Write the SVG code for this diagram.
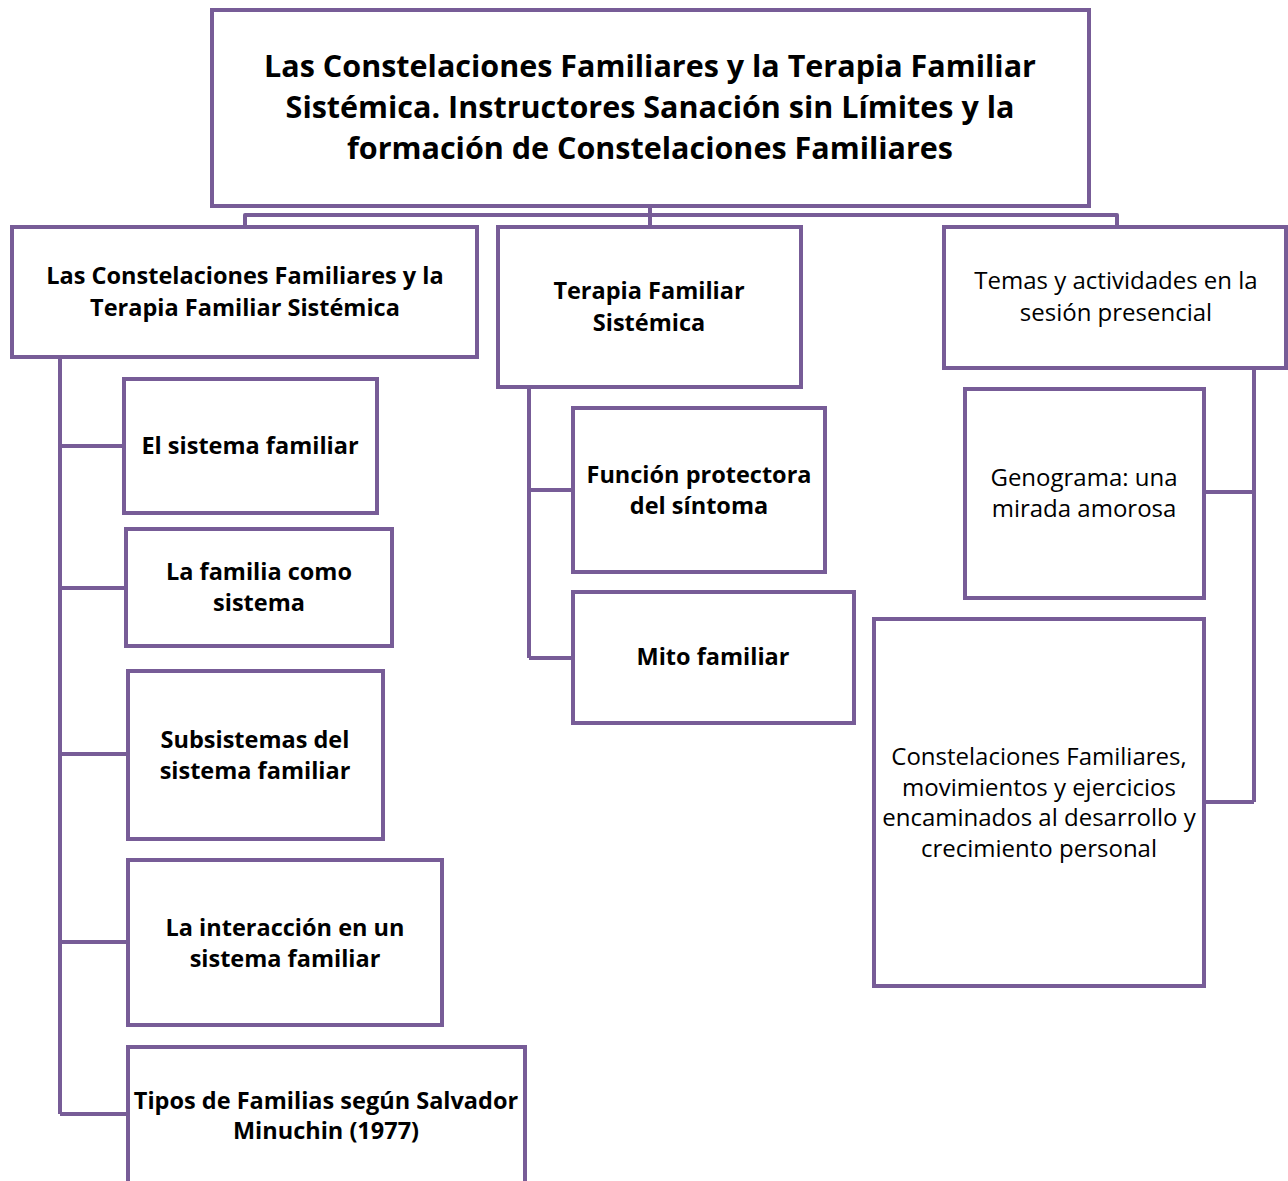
<svg xmlns="http://www.w3.org/2000/svg" width="1288" height="1181" viewBox="0 0 1288 1181">
<style>
.box{fill:#fff;stroke:#775C97;stroke-width:4}
.ln{fill:none;stroke:#775C97;stroke-width:4;stroke-linejoin:round}
text{font-family:"Open Sans",Lato,"Liberation Sans",sans-serif;fill:#000;text-anchor:middle}
.t{font-size:30.5px;font-weight:bold}
.b{font-size:23.5px;font-weight:bold}
.r{font-size:24px;font-weight:normal}
</style>
<rect width="1288" height="1181" fill="#fff"/>
<g id="connectors">
<path class="ln" d="M650 206V215M245 227V215H1117V227M650 215V227"/>
<path class="ln" d="M60 357V1114M60 446H124M60 588H126M60 754H128M60 942H128M60 1114H128"/>
<path class="ln" d="M529 387V658M529 490H573M529 658H573"/>
<path class="ln" d="M1254 368V802M1254 492H1204M1254 802H1204"/>
</g>
<g id="title">
<rect class="box" x="212" y="10" width="877" height="196"/>
<text class="t" x="650" y="77">Las Constelaciones Familiares y la Terapia Familiar</text>
<text class="t" x="650" y="118">Sistémica. Instructores Sanación sin Límites y la</text>
<text class="t" x="650" y="159">formación de Constelaciones Familiares</text>
</g>
<g id="n1">
<rect class="box" x="12" y="227" width="465" height="130"/>
<text class="b" x="245" y="284">Las Constelaciones Familiares y la</text>
<text class="b" x="245" y="316">Terapia Familiar Sistémica</text>
</g>
<g id="n2">
<rect class="box" x="498" y="227" width="303" height="160"/>
<text class="b" x="649" y="299">Terapia Familiar</text>
<text class="b" x="649" y="331">Sistémica</text>
</g>
<g id="n3">
<rect class="box" x="944" y="227" width="342" height="141"/>
<text class="r" x="1116" y="289">Temas y actividades en la</text>
<text class="r" x="1116" y="321">sesión presencial</text>
</g>
<g id="n1a">
<rect class="box" x="124" y="379" width="253" height="134"/>
<text class="b" x="250" y="454">El sistema familiar</text>
</g>
<g id="n1b">
<rect class="box" x="126" y="529" width="266" height="117"/>
<text class="b" x="259" y="580">La familia como</text>
<text class="b" x="259" y="611">sistema</text>
</g>
<g id="n1c">
<rect class="box" x="128" y="671" width="255" height="168"/>
<text class="b" x="255" y="748">Subsistemas del</text>
<text class="b" x="255" y="779">sistema familiar</text>
</g>
<g id="n1d">
<rect class="box" x="128" y="860" width="314" height="165"/>
<text class="b" x="285" y="936">La interacción en un</text>
<text class="b" x="285" y="967">sistema familiar</text>
</g>
<g id="n1e">
<rect class="box" x="128" y="1047" width="397" height="160"/>
<text class="b" x="326" y="1109">Tipos de Familias según Salvador</text>
<text class="b" x="326" y="1139">Minuchin (1977)</text>
</g>
<g id="n2a">
<rect class="box" x="573" y="408" width="252" height="164"/>
<text class="b" x="699" y="483">Función protectora</text>
<text class="b" x="699" y="514">del síntoma</text>
</g>
<g id="n2b">
<rect class="box" x="573" y="592" width="281" height="131"/>
<text class="b" x="713" y="665">Mito familiar</text>
</g>
<g id="n3a">
<rect class="box" x="965" y="389" width="239" height="209"/>
<text class="r" x="1084" y="486">Genograma: una</text>
<text class="r" x="1084" y="517">mirada amorosa</text>
</g>
<g id="n3b">
<rect class="box" x="874" y="619" width="330" height="367"/>
<text class="r" x="1039" y="765">Constelaciones Familiares,</text>
<text class="r" x="1039" y="796">movimientos y ejercicios</text>
<text class="r" x="1039" y="826">encaminados al desarrollo y</text>
<text class="r" x="1039" y="857">crecimiento personal</text>
</g>
</svg>
